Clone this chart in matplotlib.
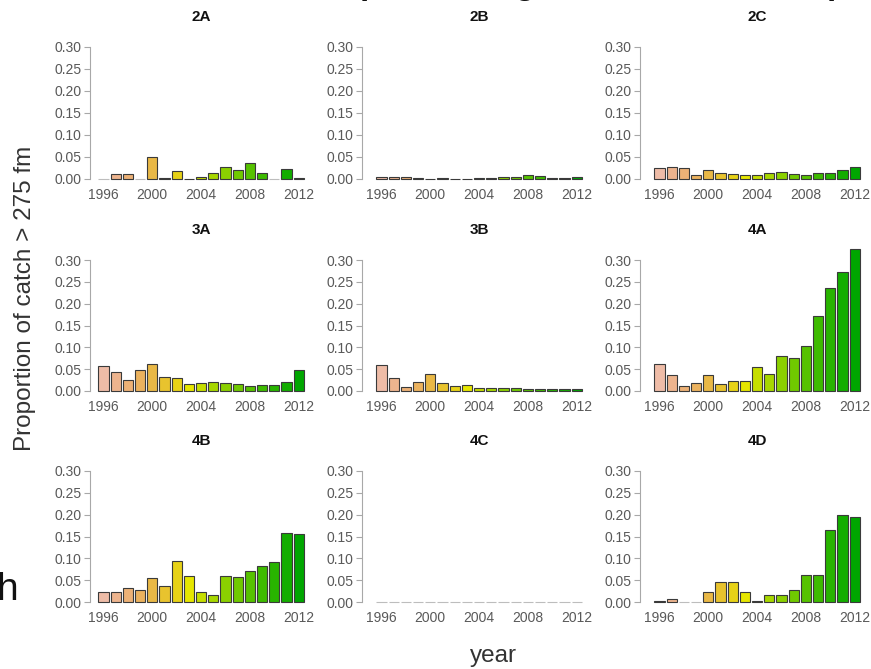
import colorsys
import matplotlib
matplotlib.use("Agg")
import matplotlib.pyplot as plt

plt.rcParams['font.family'] = ['Liberation Sans', 'DejaVu Sans']

# ---------------- data ----------------
years = list(range(1996, 2013))
panel_names = ["2A", "2B", "2C", "3A", "3B", "4A", "4B", "4C", "4D"]
x_ticks = [1996, 2000, 2004, 2008, 2012]
y_ticks = [0.00, 0.05, 0.10, 0.15, 0.20, 0.25, 0.30]

v_2A = [0.000, 0.011, 0.011, 0.000, 0.049, 0.002, 0.019, 0.001, 0.005, 0.013,
        0.027, 0.020, 0.036, 0.013, 0.000, 0.023, 0.003]
v_2B = [0.004, 0.004, 0.004, 0.002, 0.001, 0.002, 0.001, 0.001, 0.002, 0.003,
        0.004, 0.005, 0.008, 0.007, 0.002, 0.003, 0.005]
v_2C = [0.024, 0.027, 0.024, 0.010, 0.021, 0.014, 0.011, 0.009, 0.010, 0.013,
        0.015, 0.011, 0.010, 0.014, 0.013, 0.020, 0.027]
v_3A = [0.058, 0.043, 0.026, 0.049, 0.061, 0.032, 0.029, 0.015, 0.019, 0.021,
        0.018, 0.017, 0.012, 0.014, 0.013, 0.021, 0.049]
v_3B = [0.059, 0.029, 0.009, 0.021, 0.039, 0.018, 0.012, 0.014, 0.008, 0.008,
        0.007, 0.007, 0.005, 0.004, 0.004, 0.004, 0.005]
v_4A = [0.061, 0.036, 0.011, 0.018, 0.037, 0.017, 0.024, 0.024, 0.056, 0.039,
        0.081, 0.075, 0.103, 0.171, 0.235, 0.273, 0.325]
v_4B = [0.023, 0.024, 0.033, 0.027, 0.054, 0.036, 0.093, 0.060, 0.023, 0.015,
        0.060, 0.058, 0.070, 0.083, 0.092, 0.159, 0.155]
v_4C = [0.0] * 17
v_4D = [0.002, 0.006, 0.000, 0.000, 0.023, 0.046, 0.046, 0.022, 0.002, 0.017,
        0.017, 0.028, 0.062, 0.061, 0.166, 0.199, 0.195]

panel_values = [v_2A, v_2B, v_2C, v_3A, v_3B, v_4A, v_4B, v_4C, v_4D]

y_label = "Proportion of catch > 275 fm"
x_label = "year"


# ---------------- colours (R terrain.colors) ----------------
def terrain_colors(n):
    k = n // 2
    out = []
    for i in range(k):
        t = i / (k - 1)
        out.append(colorsys.hsv_to_rgb(4 / 12 - (2 / 12) * t, 1.0, 0.65 + 0.25 * t))
    m = n - k
    for j in range(1, m + 1):
        t = j / m
        out.append(colorsys.hsv_to_rgb(2 / 12 * (1 - t), 1 - t, 0.9 + 0.05 * t))
    return out


pal = terrain_colors(20)
bar_colors = [pal[len(years) - 1 - i] for i in range(len(years))]

# ---------------- layout (pixels) ----------------
W, H = 871, 669
fig = plt.figure(figsize=(W / 100, H / 100), dpi=100)

col_axis_x = [90, 362, 640]
col_first_bar = [103.5, 381.5, 659.5]
row_zero_y = [179, 391, 602]
row_top_y = [47, 260, 471]
step = 12.2
ylo, yhi = -0.012, 0.34

grey_txt = "#595959"
grey_axis = "#a8a8a8"

for idx, (name, vals) in enumerate(zip(panel_names, panel_values)):
    r, c = divmod(idx, 3)
    zero = row_zero_y[r]
    top = row_top_y[r]
    ppu = (zero - top) / 0.3
    xlo = years[0] - (col_first_bar[c] - col_axis_x[c]) / step
    xhi = years[-1] + 1.5
    left_px = col_axis_x[c]
    width_px = (xhi - xlo) * step
    bottom_px = zero - ylo * ppu
    top_px = zero - yhi * ppu
    ax = fig.add_axes([left_px / W, (H - bottom_px) / H,
                       width_px / W, (bottom_px - top_px) / H])
    edges = ["#bdbdbd" if v == 0 else "#3a3a3a" for v in vals]
    ax.bar(years, vals, width=1 / 1.2, color=bar_colors, edgecolor=edges,
           linewidth=0.8, clip_on=False)
    ax.set_xlim(xlo, xhi)
    ax.set_ylim(ylo, yhi)
    for s in ["top", "right", "bottom"]:
        ax.spines[s].set_visible(False)
    ax.spines["left"].set_bounds(0, 0.3)
    ax.spines["left"].set_color(grey_axis)
    ax.spines["left"].set_linewidth(0.8)
    ax.set_yticks(y_ticks)
    ax.set_yticklabels([f"{t:.2f}" for t in y_ticks])
    ax.set_xticks(x_ticks)
    ax.set_xticklabels([str(t) for t in x_ticks])
    ax.tick_params(axis="y", direction="out", length=4, width=0.8,
                   color=grey_axis, labelcolor=grey_txt, labelsize=10, pad=2)
    ax.tick_params(axis="x", length=0, labelcolor=grey_txt, labelsize=10, pad=3)
    ax.patch.set_visible(False)
    fig.text((col_first_bar[c] + 8 * step) / W, (H - (top - 30)) / H, name,
             ha="center", va="center", fontsize=11, fontweight="bold", color="#111111")

fig.text(25 / W, (H - 298) / H, y_label, rotation=90, ha="center", va="center",
         fontsize=17.5, color="#333333")
fig.text(493 / W, (H - 656) / H, x_label, ha="center", va="center",
         fontsize=17.5, color="#333333")

# fragments of text cut off at the picture edges (as in the reference)
for ch, xp, ha in [("p", 360, "left"), ("g", 525, "center"), ("p", 827, "left")]:
    fig.text(xp / W, (H + 6) / H, ch, ha=ha, va="baseline", fontsize=24,
             fontweight="bold", color="#111111")
fig.text(-4 / W, (H - 600) / H, "h", ha="left", va="baseline", fontsize=28,
         color="#111111")

fig.savefig("out.png", dpi=100)
